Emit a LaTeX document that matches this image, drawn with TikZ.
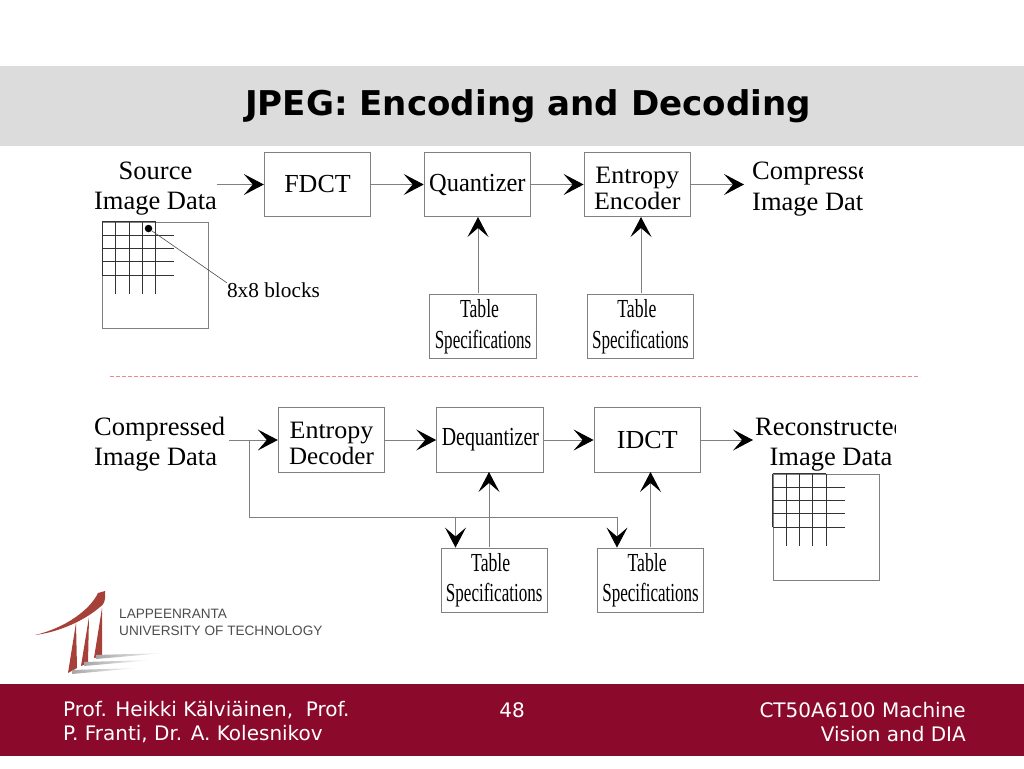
\documentclass[tikz,border=0pt]{standalone}
\usepackage{fontspec}
\setmainfont{Liberation Serif}
\newfontfamily\slidefont{DejaVu Sans}
\newfontfamily\logofont{Liberation Sans}
\usepackage{tikz}
\usetikzlibrary{arrows.meta, positioning}
\definecolor{bandgray}{HTML}{DCDCDC}
\definecolor{footred}{HTML}{8B0A2B}
\definecolor{logored}{HTML}{A8403A}
\definecolor{linegray}{HTML}{808080}
\definecolor{dashred}{HTML}{EC8A8A}
\tikzstyle{module} = [rectangle, minimum width=106.5pt, minimum height=64.5pt, text centered, draw=linegray, line width=0.9pt, inner sep=0pt, font=\fontsize{26}{30.5}\selectfont, align=center]
\tikzstyle{specs} = [module, minimum height=64pt]
\tikzstyle{entropy} = [module, font=\fontsize{25}{26}\selectfont]
\tikzstyle{flow} = [draw=linegray, line width=0.9pt, -{Stealth[length=20pt, width=21pt, inset=9pt, black]}]
\tikzstyle{wire} = [draw=linegray, line width=0.9pt]
\tikzstyle{label} = [inner sep=0pt, font=\fontsize{26.5}{30.5}\selectfont, align=center]
\tikzstyle{imagebox} = [rectangle, minimum width=106pt, minimum height=106pt, draw=linegray, line width=0.9pt, inner sep=0pt]
\newcommand{\narrow}[2]{\scalebox{#1}[1]{#2}}
\newcommand{\tablespec}{\narrow{.68}{Table}\hspace*{7pt}\\[0pt]\narrow{.655}{Specifications}}
\newcommand{\entropytext}[2]{\rule{0pt}{24pt}\narrow{1.04}{Entropy}\\\narrow{#1}{#2}}
\newcommand{\blockgrid}[1]{%
  \begin{scope}[shift={(#1.north west)}, line width=0.7pt]
    \draw[black!80] (0,0) -- (53.6,0);
    \draw[black!80] (0,0) -- (0,53.6);
    \foreach \i in {1,2,3,4} {
      \draw[black!80] (\i*13.4,0) -- (\i*13.4,72);
      \draw[black!80] (0,\i*13.4) -- (72,\i*13.4);
    }
  \end{scope}}

\begin{document}
\begin{tikzpicture}[x=1pt, y=-1pt]
    \useasboundingbox (0,0) rectangle (1024,768);
    \fill[bandgray] (0,66) rectangle (1024,146);
    \fill[footred] (0,684) rectangle (1024,756);
    \node[anchor=west, inner sep=0pt, font=\slidefont\bfseries\fontsize{34.1}{38}\selectfont] (title) at (245,106) {JPEG: Encoding and Decoding};

    % encoder
    \node[module] (fdct) at (317.5,184.5) {FDCT};
    \node[module, right=52.5pt of fdct] (quantizer) {\narrow{.94}{Quantizer}};
    \node[entropy, right=52.5pt of quantizer] (encoder) {\entropytext{1.04}{Encoder}};
    \node[specs] (tableA) at (483,326.5) {\tablespec};
    \node[specs, right=50pt of tableA] (tableB) {\tablespec};
    \node[label] (sourceLabel) at (155.5,188.5) {Source\\Image Data};
    \begin{scope}
        \clip (740,150) rectangle (862,222);
        \node[label, anchor=west, align=left] (compressedOut) at (752,188.5) {Compressed\\Image Data};
    \end{scope}
    \node[imagebox] (sourceImage) at (155.5,275) {};
    \blockgrid{sourceImage}
    \node[circle, fill=black, inner sep=0pt, minimum size=7.5pt] (dot) at (148.5,228.5) {};
    \node[inner sep=0pt, font=\fontsize{21.3}{24}\selectfont] (blocksLabel) at (273.5,290.5) {8x8 blocks};

    \draw[flow] (sourceLabel.east|-fdct) -- (fdct);
    \draw[flow] (fdct) -- (quantizer);
    \draw[flow] (quantizer) -- (encoder);
    \draw[flow] (encoder) -- (744,184.5);
    \draw[flow] (478,293) -- (478,217);
    \draw[flow] (641,293) -- (641,217);
    \draw[wire, line width=0.6pt, draw=black!70] (dot) -- (blocksLabel.north west);

    \draw[draw=dashred, dash pattern=on 3.5pt off 2.5pt, line width=0.9pt] (110,376) -- (920,376);

    % decoder
    \node[entropy] (decoder) at (331.5,440) {\entropytext{1}{Decoder}};
    \node[module, right=51pt of decoder] (dequantizer) {\hspace*{1pt}\narrow{.765}{Dequantizer}};
    \node[module, right=50pt of dequantizer] (idct) {IDCT};
    \node[specs] (tableC) at (494.2,580) {\tablespec};
    \node[specs, right=49pt of tableC] (tableD) {\tablespec};
    \node[label, anchor=west, align=left] (compressedIn) at (94,444) {Compressed\\Image Data};
    \begin{scope}
        \clip (745,405) rectangle (895,476);
        \node[label] (reconLabel) at (831,444) {Reconstructed\\Image Data};
    \end{scope}
    \node[imagebox] (reconImage) at (826,527) {};
    \blockgrid{reconImage}

    \coordinate (inStart) at (229,440);
    \coordinate (split) at (249.5,440);
    \coordinate (tapC) at (455.5,517);
    \coordinate (tapD) at (617,517);

    \draw[flow] (inStart) -- (decoder);
    \draw[flow] (decoder) -- (dequantizer);
    \draw[flow] (dequantizer) -- (idct);
    \draw[flow] (idct) -- (753,440);
    \draw[wire] (split) |- (tapD);
    \draw[flow] (tapC) -- (tapC|-tableC.north);
    \draw[flow] (tapD) -- (tapD|-tableD.north);
    \draw[flow] (489,547) -- (489,472);
    \draw[flow] (650.5,547) -- (650.5,472);

    % logo
    \fill[logored] (35,635) .. controls (65,628) and (90,610) .. (98,593) -- (105,591) .. controls (106,600) and (104,605) .. (100,607) .. controls (85,620) and (60,632) .. cycle;
    \fill[logored] (76,623) -- (77,668) -- (68,673) -- cycle;
    \fill[logored] (89,617) -- (88,663) -- (81,666) -- cycle;
    \fill[logored] (102,608) -- (102,656) -- (94,658) -- cycle;
    \shade[left color=black!35, right color=white] (72,670) -- (138,668) -- (72,674) -- cycle;
    \shade[left color=black!35, right color=white] (84,662) -- (152,660) -- (84,666) -- cycle;
    \shade[left color=black!35, right color=white] (96,655) -- (165,653) -- (96,659) -- cycle;
    \node[anchor=west, inner sep=0pt, text=black!70, align=left, font=\logofont\fontsize{13.6}{17}\selectfont] (logoText) at (119,622.5) {LAPPEENRANTA\\UNIVERSITY OF TECHNOLOGY};

    % footer
    \node[anchor=west, inner sep=0pt, text=white, align=left, font=\slidefont\fontsize{20}{24}\selectfont] (footLeft) at (63,722) {Prof. Heikki Kälviäinen,\ \ Prof.\\P. Franti, Dr. A. Kolesnikov};
    \node[inner sep=0pt, text=white, font=\slidefont\fontsize{20}{24}\selectfont] (pageNo) at (512,710) {48};
    \node[anchor=east, inner sep=0pt, text=white, align=right, font=\slidefont\fontsize{20}{24}\selectfont] (footRight) at (966,722) {CT50A6100 Machine\\Vision and DIA};
\end{tikzpicture}
\end{document}
